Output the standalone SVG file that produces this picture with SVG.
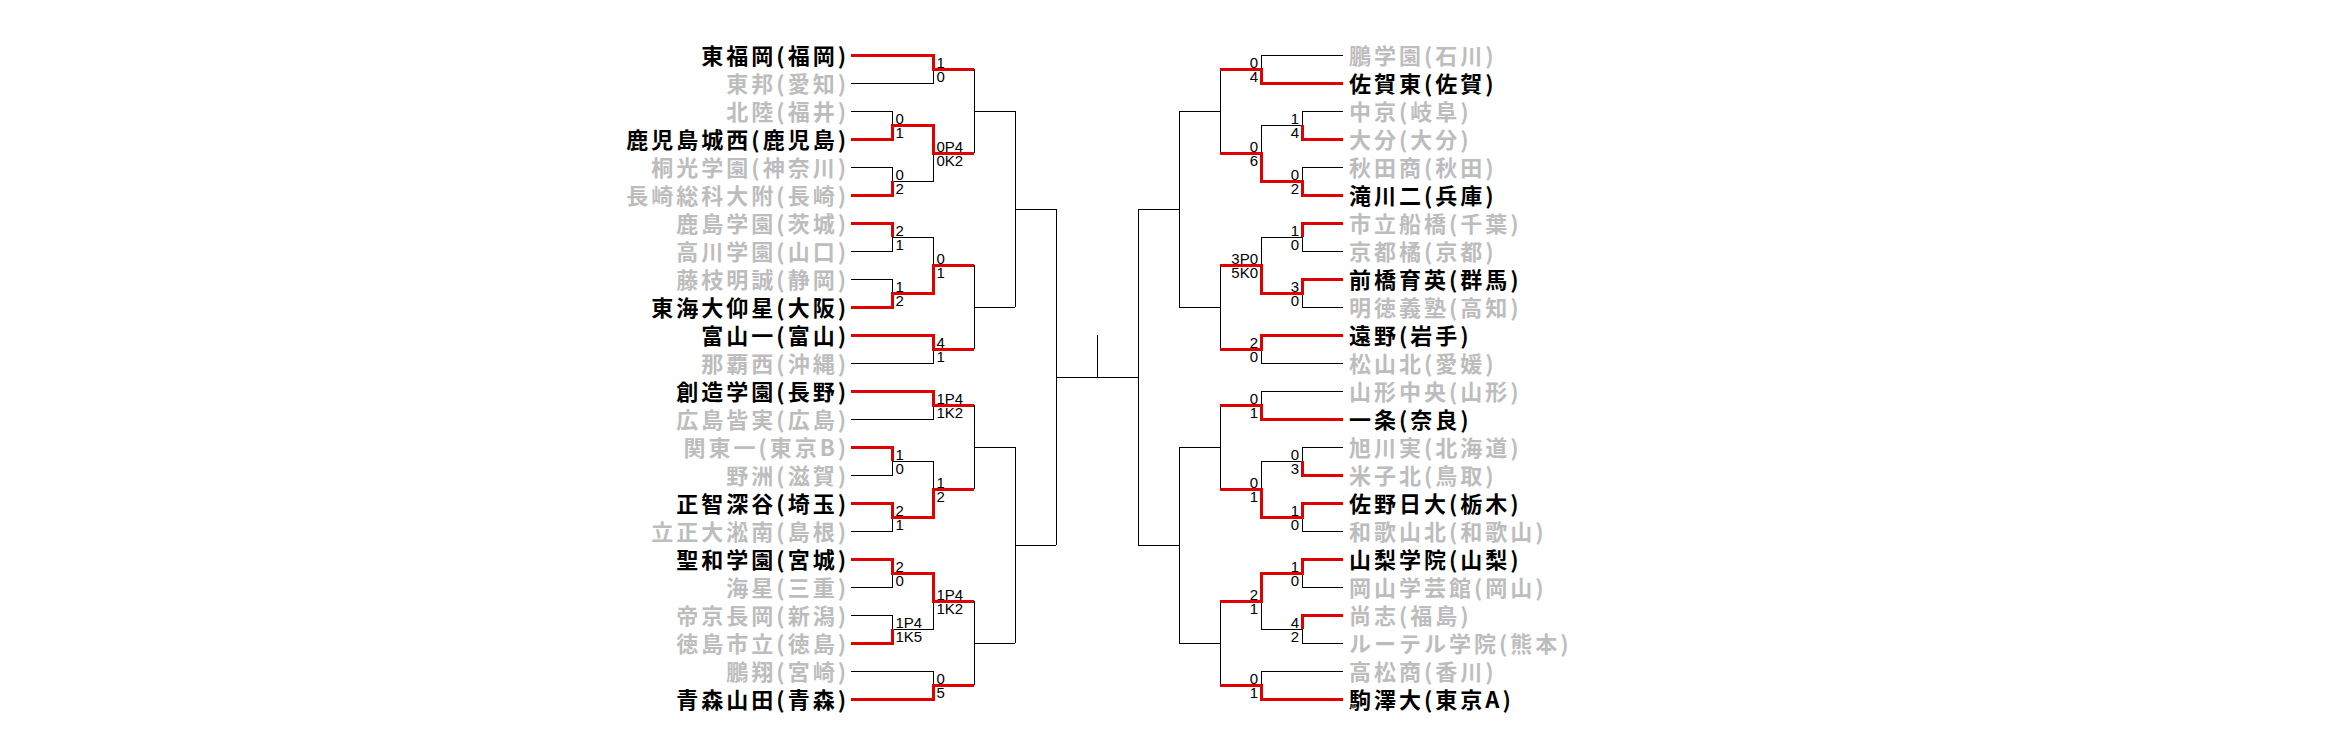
<svg xmlns="http://www.w3.org/2000/svg" width="2336" height="755" viewBox="0 0 2336 755">
<style>
.tm{font-family:"Noto Sans CJK JP","Noto Sans",sans-serif;font-weight:bold;font-size:22px;letter-spacing:3px}
.w{fill:#000}
.l{fill:#bdbdbd}
.L{text-anchor:end}
.sc{font-family:"Liberation Sans",Arial,sans-serif;font-size:15px;fill:#000}
.sr{text-anchor:end}
.k{fill:none;stroke:#000;stroke-width:1}
.r{fill:none;stroke:#e00000;stroke-width:3;stroke-linejoin:miter}
</style>
<rect width="2336" height="755" fill="#fff"/>
<g id="connectors" shape-rendering="crispEdges">
<path class="k" d="M851,83H933V69 M851,111H892V125 M851,167H892V181 M892,181H933V153 M974,69V153 M974,111H1015
M892,237H933V265 M851,251H892V237 M851,279H892V293 M851,363H933V349 M974,265V349 M974,307H1015
M851,419H933V405 M892,461H933V489 M851,475H892V461 M851,531H892V517 M974,405V489 M974,447H1015
M851,587H892V573 M851,615H892V629 M892,629H933V601 M851,671H933V685 M974,601V685 M974,643H1015
M1015,111V307 M1015,209H1056 M1015,447V643 M1015,545H1056 M1056,209V545 M1056,377H1138 M1097,335V377
M1138,209V545 M1138,209H1179 M1138,545H1179 M1179,111V307 M1179,447V643
M1343,55H1261V69 M1343,111H1302V125 M1302,125H1261V153 M1343,167H1302V181 M1220,69V153 M1220,111H1179
M1302,237H1261V265 M1343,251H1302V237 M1343,307H1302V293 M1343,363H1261V349 M1220,265V349 M1220,307H1179
M1343,391H1261V405 M1343,447H1302V461 M1302,461H1261V489 M1343,531H1302V517 M1220,405V489 M1220,447H1179
M1343,587H1302V573 M1302,629H1261V601 M1343,643H1302V629 M1343,671H1261V685 M1220,601V685 M1220,643H1179"/>
<path class="r" d="M851,55H933V69H974 M851,139H892V125H933V153H974 M851,195H892V181
M851,223H892V237 M851,307H892V293H933V265H974 M851,335H933V349H974
M851,391H933V405H974 M851,447H892V461 M851,503H892V517H933V489H974
M851,559H892V573H933V601H974 M851,643H892V629 M851,699H933V685H974
M1343,83H1261V69H1220 M1343,139H1302V125 M1343,195H1302V181H1261V153H1220
M1343,223H1302V237 M1343,279H1302V293H1261V265H1220 M1343,335H1261V349H1220
M1343,419H1261V405H1220 M1343,475H1302V461 M1343,503H1302V517H1261V489H1220
M1343,559H1302V573H1261V601H1220 M1343,615H1302V629 M1343,699H1261V685H1220"/>
</g>
<g id="scores">
<text class="sc" x="936.5" y="68">1</text><text class="sc" x="936.5" y="82">0</text>
<text class="sc" x="895.5" y="124">0</text><text class="sc" x="895.5" y="138">1</text>
<text class="sc" x="895.5" y="180">0</text><text class="sc" x="895.5" y="194">2</text>
<text class="sc" x="936.5" y="152">0P4</text><text class="sc" x="936.5" y="166">0K2</text>
<text class="sc" x="895.5" y="236">2</text><text class="sc" x="895.5" y="250">1</text>
<text class="sc" x="895.5" y="292">1</text><text class="sc" x="895.5" y="306">2</text>
<text class="sc" x="936.5" y="264">0</text><text class="sc" x="936.5" y="278">1</text>
<text class="sc" x="936.5" y="348">4</text><text class="sc" x="936.5" y="362">1</text>
<text class="sc" x="936.5" y="404">1P4</text><text class="sc" x="936.5" y="418">1K2</text>
<text class="sc" x="895.5" y="460">1</text><text class="sc" x="895.5" y="474">0</text>
<text class="sc" x="895.5" y="516">2</text><text class="sc" x="895.5" y="530">1</text>
<text class="sc" x="936.5" y="488">1</text><text class="sc" x="936.5" y="502">2</text>
<text class="sc" x="895.5" y="572">2</text><text class="sc" x="895.5" y="586">0</text>
<text class="sc" x="895.5" y="628">1P4</text><text class="sc" x="895.5" y="642">1K5</text>
<text class="sc" x="936.5" y="600">1P4</text><text class="sc" x="936.5" y="614">1K2</text>
<text class="sc" x="936.5" y="684">0</text><text class="sc" x="936.5" y="698">5</text>
<text class="sc sr" x="1258" y="68">0</text><text class="sc sr" x="1258" y="82">4</text>
<text class="sc sr" x="1299" y="124">1</text><text class="sc sr" x="1299" y="138">4</text>
<text class="sc sr" x="1299" y="180">0</text><text class="sc sr" x="1299" y="194">2</text>
<text class="sc sr" x="1258" y="152">0</text><text class="sc sr" x="1258" y="166">6</text>
<text class="sc sr" x="1299" y="236">1</text><text class="sc sr" x="1299" y="250">0</text>
<text class="sc sr" x="1299" y="292">3</text><text class="sc sr" x="1299" y="306">0</text>
<text class="sc sr" x="1258" y="264">3P0</text><text class="sc sr" x="1258" y="278">5K0</text>
<text class="sc sr" x="1258" y="348">2</text><text class="sc sr" x="1258" y="362">0</text>
<text class="sc sr" x="1258" y="404">0</text><text class="sc sr" x="1258" y="418">1</text>
<text class="sc sr" x="1299" y="460">0</text><text class="sc sr" x="1299" y="474">3</text>
<text class="sc sr" x="1299" y="516">1</text><text class="sc sr" x="1299" y="530">0</text>
<text class="sc sr" x="1258" y="488">0</text><text class="sc sr" x="1258" y="502">1</text>
<text class="sc sr" x="1299" y="572">1</text><text class="sc sr" x="1299" y="586">0</text>
<text class="sc sr" x="1299" y="628">4</text><text class="sc sr" x="1299" y="642">2</text>
<text class="sc sr" x="1258" y="600">2</text><text class="sc sr" x="1258" y="614">1</text>
<text class="sc sr" x="1258" y="684">0</text><text class="sc sr" x="1258" y="698">1</text>
</g>
<g id="L00"><text class="tm w L" x="849" y="64">東福岡(福岡)</text></g>
<g id="L01"><text class="tm l L" x="849" y="92">東邦(愛知)</text></g>
<g id="L02"><text class="tm l L" x="849" y="120">北陸(福井)</text></g>
<g id="L03"><text class="tm w L" x="849" y="148">鹿児島城西(鹿児島)</text></g>
<g id="L04"><text class="tm l L" x="849" y="176">桐光学園(神奈川)</text></g>
<g id="L05"><text class="tm l L" x="849" y="204">長崎総科大附(長崎)</text></g>
<g id="L06"><text class="tm l L" x="849" y="232">鹿島学園(茨城)</text></g>
<g id="L07"><text class="tm l L" x="849" y="260">高川学園(山口)</text></g>
<g id="L08"><text class="tm l L" x="849" y="288">藤枝明誠(静岡)</text></g>
<g id="L09"><text class="tm w L" x="849" y="316">東海大仰星(大阪)</text></g>
<g id="L10"><text class="tm w L" x="849" y="344">富山一(富山)</text></g>
<g id="L11"><text class="tm l L" x="849" y="372">那覇西(沖縄)</text></g>
<g id="L12"><text class="tm w L" x="849" y="400">創造学園(長野)</text></g>
<g id="L13"><text class="tm l L" x="849" y="428">広島皆実(広島)</text></g>
<g id="L14"><text class="tm l L" x="849" y="456">関東一(東京B)</text></g>
<g id="L15"><text class="tm l L" x="849" y="484">野洲(滋賀)</text></g>
<g id="L16"><text class="tm w L" x="849" y="512">正智深谷(埼玉)</text></g>
<g id="L17"><text class="tm l L" x="849" y="540">立正大淞南(島根)</text></g>
<g id="L18"><text class="tm w L" x="849" y="568">聖和学園(宮城)</text></g>
<g id="L19"><text class="tm l L" x="849" y="596">海星(三重)</text></g>
<g id="L20"><text class="tm l L" x="849" y="624">帝京長岡(新潟)</text></g>
<g id="L21"><text class="tm l L" x="849" y="652">徳島市立(徳島)</text></g>
<g id="L22"><text class="tm l L" x="849" y="680">鵬翔(宮崎)</text></g>
<g id="L23"><text class="tm w L" x="849" y="708">青森山田(青森)</text></g>
<g id="R00"><text class="tm l" x="1349" y="64">鵬学園(石川)</text></g>
<g id="R01"><text class="tm w" x="1349" y="92">佐賀東(佐賀)</text></g>
<g id="R02"><text class="tm l" x="1349" y="120">中京(岐阜)</text></g>
<g id="R03"><text class="tm l" x="1349" y="148">大分(大分)</text></g>
<g id="R04"><text class="tm l" x="1349" y="176">秋田商(秋田)</text></g>
<g id="R05"><text class="tm w" x="1349" y="204">滝川二(兵庫)</text></g>
<g id="R06"><text class="tm l" x="1349" y="232">市立船橋(千葉)</text></g>
<g id="R07"><text class="tm l" x="1349" y="260">京都橘(京都)</text></g>
<g id="R08"><text class="tm w" x="1349" y="288">前橋育英(群馬)</text></g>
<g id="R09"><text class="tm l" x="1349" y="316">明徳義塾(高知)</text></g>
<g id="R10"><text class="tm w" x="1349" y="344">遠野(岩手)</text></g>
<g id="R11"><text class="tm l" x="1349" y="372">松山北(愛媛)</text></g>
<g id="R12"><text class="tm l" x="1349" y="400">山形中央(山形)</text></g>
<g id="R13"><text class="tm w" x="1349" y="428">一条(奈良)</text></g>
<g id="R14"><text class="tm l" x="1349" y="456">旭川実(北海道)</text></g>
<g id="R15"><text class="tm l" x="1349" y="484">米子北(鳥取)</text></g>
<g id="R16"><text class="tm w" x="1349" y="512">佐野日大(栃木)</text></g>
<g id="R17"><text class="tm l" x="1349" y="540">和歌山北(和歌山)</text></g>
<g id="R18"><text class="tm w" x="1349" y="568">山梨学院(山梨)</text></g>
<g id="R19"><text class="tm l" x="1349" y="596">岡山学芸館(岡山)</text></g>
<g id="R20"><text class="tm l" x="1349" y="624">尚志(福島)</text></g>
<g id="R21"><text class="tm l" x="1349" y="652">ルーテル学院(熊本)</text></g>
<g id="R22"><text class="tm l" x="1349" y="680">高松商(香川)</text></g>
<g id="R23"><text class="tm w" x="1349" y="708">駒澤大(東京A)</text></g>
</svg>
